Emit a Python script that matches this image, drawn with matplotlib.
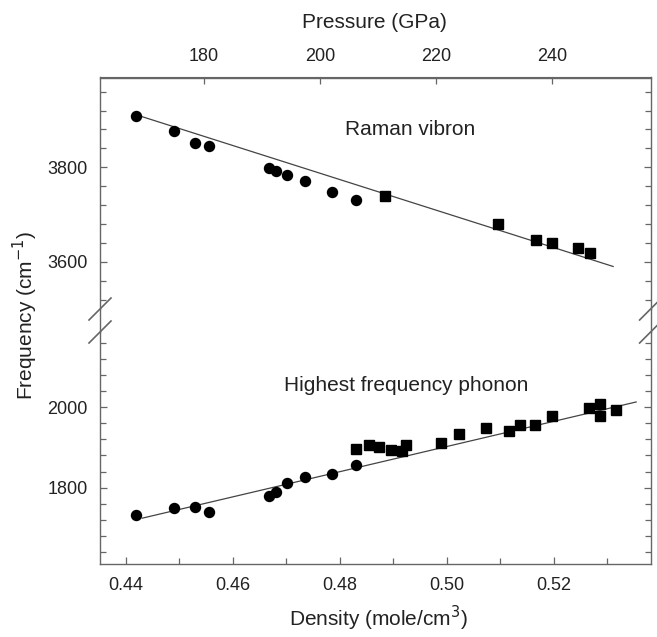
import matplotlib
matplotlib.use('Agg')
from matplotlib import pyplot as plt
from matplotlib.lines import Line2D
from matplotlib.ticker import MultipleLocator

plt.rcParams['font.family'] = ['Liberation Sans', 'DejaVu Sans']

# Raman vibron (top panel)
vibDensCirc = [0.4420, 0.4491, 0.4530, 0.4556, 0.4667, 0.4681, 0.4701, 0.4736, 0.4786, 0.4830]
vibFreqCirc = [3908, 3877, 3852, 3845, 3799, 3793, 3783, 3770, 3747, 3730]
vibDensSq = [0.4885, 0.5096, 0.5166, 0.5196, 0.5246, 0.5267]
vibFreqSq = [3739, 3679, 3645, 3640, 3630, 3618]
vibFitDens = [0.4431, 0.5311]
vibFitFreq = [3907, 3590]

# highest frequency phonon (bottom panel)
phDensCirc = [0.4420, 0.4491, 0.4530, 0.4556, 0.4667, 0.4681, 0.4701, 0.4736, 0.4786, 0.4830]
phFreqCirc = [1732, 1749, 1753, 1739, 1778, 1789, 1812, 1827, 1834, 1855]
phDensSq = [0.4831, 0.4854, 0.4873, 0.4895, 0.4916, 0.4924, 0.4990, 0.5022, 0.5073, 0.5116,
            0.5136, 0.5165, 0.5196, 0.5266, 0.5286, 0.5286, 0.5316]
phFreqSq = [1897, 1906, 1902, 1894, 1891, 1906, 1912, 1934, 1949, 1942,
            1955, 1955, 1979, 1999, 2008, 1979, 1993]
phFitDens = [0.4431, 0.5354]
phFitFreq = [1724, 2013]

# pressure scale on top: P = slope*density + offset
pressSlope, pressOffset = 923.0, -239.65
pressTicks = [180, 200, 220, 240]

W, H = 657, 637
spineCol = '#666666'
txtCol = '#222222'

def d2p(d): return pressSlope*d + pressOffset
def p2d(p): return (p - pressOffset)/pressSlope

def styleAx(ax, ylim, ymaj):
    ax.set_xlim(0.4352, 0.5381)
    ax.set_ylim(*ylim)
    ax.yaxis.set_major_locator(MultipleLocator(ymaj))
    ax.yaxis.set_minor_locator(MultipleLocator(40))
    ax.tick_params(axis='both', which='both', direction='in', colors=spineCol, labelcolor=txtCol,
                   labelsize=13, width=0.9, left=True, right=True, pad=9)
    ax.tick_params(which='major', length=5)
    ax.tick_params(which='minor', length=4)
    for s in ax.spines.values():
        s.set_color(spineCol)
        s.set_linewidth(1.0)

fig = plt.figure(figsize=(W/100, H/100), dpi=100)
left, right = 100/W, 650.6/W
axTop = fig.add_axes([left, 1-309/H, right-left, (309-77.5)/H])
axBot = fig.add_axes([left, 1-564/H, right-left, (564-332)/H])

# top panel
styleAx(axTop, (3500, 3990), 200)
axTop.spines['bottom'].set_visible(False)
axTop.tick_params(axis='x', which='both', bottom=False, labelbottom=False)
axTop.plot(vibFitDens, vibFitFreq, color='#444444', lw=0.9)
axTop.plot(vibDensCirc, vibFreqCirc, 'o', color='black', ms=7.2)
axTop.plot(vibDensSq, vibFreqSq, 's', color='black', ms=6.5)
axTop.text(0.4931, 3880, 'Raman vibron', fontsize=15, color=txtCol, ha='center', va='center')
sec = axTop.secondary_xaxis('top', functions=(d2p, p2d))
sec.set_xticks(pressTicks)
sec.tick_params(direction='in', length=5, width=0.9, colors=spineCol, labelcolor=txtCol, labelsize=13, pad=9)
sec.spines['top'].set_color(spineCol)

# bottom panel
styleAx(axBot, (1610, 2187), 200)
axBot.spines['top'].set_visible(False)
axBot.xaxis.set_major_locator(MultipleLocator(0.02))
axBot.xaxis.set_minor_locator(MultipleLocator(0.01))
axBot.tick_params(axis='x', which='both', top=False)
axBot.xaxis.set_major_formatter(lambda v, p: f'{v:.2f}')
axBot.plot(phFitDens, phFitFreq, color='#444444', lw=0.9)
axBot.plot(phDensCirc, phFreqCirc, 'o', color='black', ms=7.2)
axBot.plot(phDensSq, phFreqSq, 's', color='black', ms=6.5)
axBot.text(0.4924, 2053, 'Highest frequency phonon', fontsize=15, color=txtCol, ha='center', va='center')

# axis break: spines run through the gap, with slash marks
dx, dy = 11/W, 11/H
for xs in (left, right):
    fig.add_artist(Line2D([xs, xs], [1-309/H, 1-332/H], transform=fig.transFigure, color=spineCol, lw=1.0))
    for yc in (309, 332):
        y = 1 - yc/H
        fig.add_artist(Line2D([xs-dx, xs+dx], [y-dy, y+dy], transform=fig.transFigure,
                              color=spineCol, lw=1.2))

fig.text(374/W, 1-23/H, 'Pressure (GPa)', fontsize=15, color=txtCol, ha='center', va='center')
fig.text(378/W, 1-618/H, 'Density (mole/cm$^3$)', fontsize=15, color=txtCol, ha='center', va='center')
fig.text(25/W, 1-315/H, 'Frequency (cm$^{-1}$)', fontsize=15, color=txtCol, ha='center', va='center',
         rotation=90)

fig.savefig('out.png', dpi=100)
